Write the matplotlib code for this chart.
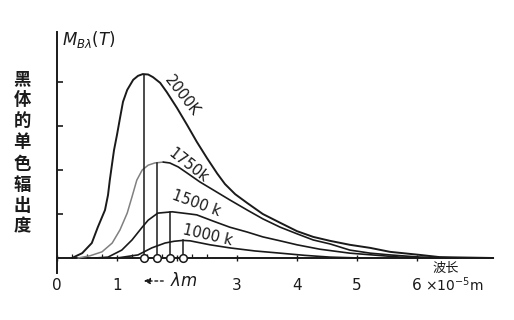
import numpy as np
import matplotlib
matplotlib.use("Agg")
import matplotlib.pyplot as plt

plt.rcParams['font.family'] = ['DejaVu Sans', 'Noto Sans CJK SC']

# ---- data (wavelength in 1e-5 m, radiance in arbitrary units) ----
lam_2000 = [0.25, 0.42, 0.58, 0.68, 0.80, 0.85, 0.88, 0.92, 0.95, 1.00, 1.05, 1.10, 1.17, 1.27,
            1.35, 1.43, 1.52, 1.60, 1.72, 1.83, 2.00, 2.17, 2.33, 2.50, 2.67, 2.80, 2.97, 3.17,
            3.43, 3.72, 4.00, 4.27, 4.55, 4.88, 5.22, 5.55, 6.05, 6.38, 7.27]
m_2000 = [0.0, 0.11, 0.34, 0.70, 1.09, 1.43, 1.77, 2.16, 2.45, 2.80, 3.18, 3.55, 3.82, 4.05,
          4.14, 4.18, 4.17, 4.11, 3.98, 3.77, 3.41, 3.02, 2.64, 2.27, 1.92, 1.68, 1.45, 1.25,
          1.00, 0.80, 0.61, 0.48, 0.39, 0.30, 0.23, 0.14, 0.07, 0.02, 0.0]

lam_1750 = [0.35, 0.55, 0.75, 0.92, 1.05, 1.17, 1.25, 1.33, 1.42, 1.52, 1.63, 1.77, 1.88, 2.02,
            2.17, 2.38, 2.60, 2.88, 3.17, 3.43, 3.72, 4.00, 4.27, 4.55, 4.88, 5.22, 5.55, 6.05, 6.67]
m_1750 = [0.0, 0.05, 0.14, 0.34, 0.64, 1.02, 1.39, 1.77, 2.00, 2.11, 2.16, 2.18, 2.16, 2.07,
          1.93, 1.73, 1.55, 1.32, 1.09, 0.89, 0.70, 0.55, 0.41, 0.32, 0.18, 0.11, 0.07, 0.02, 0.0]

lam_1500 = [0.63, 0.85, 1.08, 1.25, 1.42, 1.52, 1.68, 1.92, 2.22, 2.33, 2.60, 2.88, 3.17,
            3.43, 3.72, 4.00, 4.38, 4.88, 5.72, 6.38]
m_1500 = [0.0, 0.02, 0.18, 0.41, 0.70, 0.86, 1.02, 1.05, 1.00, 0.98, 0.84, 0.70, 0.59,
          0.48, 0.39, 0.30, 0.20, 0.11, 0.02, 0.0]

lam_1000 = [1.00, 1.35, 1.58, 1.80, 1.95, 2.10, 2.22, 2.55, 2.88, 3.30, 3.72, 4.13, 4.55, 5.05]
m_1000 = [0.0, 0.07, 0.23, 0.34, 0.38, 0.40, 0.39, 0.30, 0.23, 0.16, 0.11, 0.06, 0.02, 0.0]

temps = ['2000K', '1750k', '1500 k', '1000 k']
peak_lam = [1.45, 1.67, 1.88, 2.10]
peak_m = [4.17, 2.17, 1.05, 0.40]

xtick_vals = [0, 1, 2, 3, 4, 5, 6]
xtick_labels = ['0', '1', '', '3', '4', '5', '6']

# ---- figure ----
W, H = 514, 320
fig = plt.figure(figsize=(W / 100, H / 100), dpi=100)
ax = fig.add_axes([0, 0, 1, 1])
x0, y0, sx, sy = 57, 258, 60.0, 44.0
ax.set_xlim(-x0 / sx, (W - x0) / sx)
ax.set_ylim(-(H - y0) / sy, y0 / sy)

def P(px, py):
    return (px - x0) / sx, (y0 - py) / sy

ink = '#1a1a1a'
for s in ['top', 'right']:
    ax.spines[s].set_visible(False)
ax.spines['left'].set_position(('data', 0))
ax.spines['bottom'].set_position(('data', 0))
ax.spines['left'].set_bounds(-0.34, 5.14)
ax.spines['bottom'].set_bounds(0, 7.27)
for s in ['left', 'bottom']:
    ax.spines[s].set_color(ink)
    ax.spines[s].set_linewidth(1.4)

ax.set_yticks([1, 2, 3, 4])
ax.set_yticklabels([])
ax.tick_params(axis='y', direction='in', length=4, width=1.2, color=ink)
ax.set_xticks(xtick_vals)
ax.set_xticklabels(xtick_labels)
ax.set_xticks(np.arange(0.25, 2.75, 0.25), minor=True)
ax.tick_params(axis='x', which='major', direction='inout', length=5, width=1.0,
               color=ink, pad=12, labelsize=11, labelcolor=ink)
ax.tick_params(axis='x', which='minor', direction='in', length=3, width=0.9, color=ink)

# curves
kw = dict(solid_joinstyle='round', solid_capstyle='round', zorder=3)
ax.plot(lam_2000, m_2000, color=ink, lw=1.4, **kw)
i = m_1750.index(max(m_1750))
ax.plot(lam_1750[:i + 1], m_1750[:i + 1], color='#808080', lw=1.1, **kw)
ax.plot(lam_1750[i:], m_1750[i:], color=ink, lw=1.2, **kw)
ax.plot(lam_1500, m_1500, color=ink, lw=1.2, **kw)
ax.plot(lam_1000, m_1000, color=ink, lw=1.2, **kw)

# peak lines and markers
for lx, my in zip(peak_lam, peak_m):
    ax.plot([lx, lx], [0, my], color=ink, lw=1.1, zorder=3)
ax.plot(peak_lam, [0] * len(peak_lam), 'o', ms=5.5, mfc='white', mec=ink, mew=1.1,
        zorder=5, clip_on=False)

# curve labels
lab_pos = [P(182, 96), P(188, 166), P(196, 203), P(208, 235)]
lab_rot = [-52, -38, -20, -13]
for t, (lx, ly), r in zip(temps, lab_pos, lab_rot):
    ax.text(lx, ly, t, rotation=r, ha='center', va='center', fontsize=10.5,
            color=ink, rotation_mode='anchor')

# y label
ax.text(*P(62, 40), r'$M_{B\lambda}(T)$', ha='left', va='center', fontsize=12, color=ink)
ax.text(*P(22, 153), '\n'.join('黑体的单色辐出度'), ha='center', va='center',
        fontsize=12.5, fontweight='bold', color=ink, linespacing=1.22,
        family=['Noto Sans CJK SC', 'DejaVu Sans'])

# lambda_m arrow
ax.annotate('', xy=P(141, 281), xytext=P(166, 281),
            arrowprops=dict(arrowstyle='-|>', color=ink, lw=1.0, linestyle=(0, (2, 2)),
                            mutation_scale=9))
ax.text(*P(170, 281), r'$\lambda m$', ha='left', va='center', fontsize=12, color=ink)

# x axis title
ax.text(*P(446, 268), '波长', ha='center', va='center', fontsize=9.5, color=ink,
        family=['Noto Sans CJK SC', 'DejaVu Sans'])
ax.text(*P(425, 285), r'$\times10^{-5}$m', ha='left', va='center', fontsize=10, color=ink)

fig.savefig('out.png', dpi=100, facecolor='white')
